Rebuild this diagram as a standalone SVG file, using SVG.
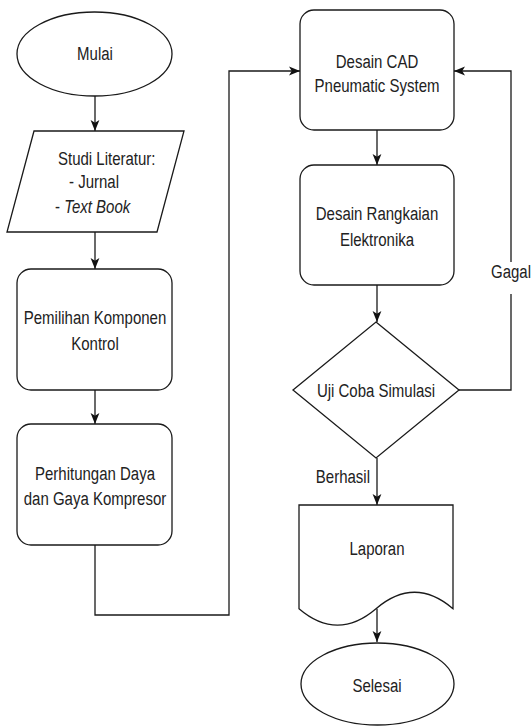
<svg xmlns="http://www.w3.org/2000/svg" width="531" height="727" viewBox="0 0 531 727">
<defs>
<marker id="arr" viewBox="0 0 10 10" refX="10" refY="5" markerUnits="userSpaceOnUse" markerWidth="11" markerHeight="11" orient="auto">
<path d="M0,1 L10,5 L0,9 L2.5,5 Z" fill="#111"/>
</marker>
<style>
.n{fill:#fff;stroke:#1a1a1a;stroke-width:1.3}
.c{fill:none;stroke:#1a1a1a;stroke-width:1.3;marker-end:url(#arr)}
text{font-family:"Liberation Sans",Arial,sans-serif;font-size:15px;fill:#222}
.m{text-anchor:middle}
</style>
</defs>
<rect width="531" height="727" fill="#fff"/>
<g id="connectors">
<path class="c" d="M95,96 V131"/>
<path class="c" d="M95,232 V269"/>
<path class="c" d="M95,390 V424"/>
<path class="c" d="M95,545 V615 H229 V71 H300"/>
<path class="c" d="M377,130 V165"/>
<path class="c" d="M377,285 V322"/>
<path class="c" d="M459,390 H511 V71 H454"/>
<path class="c" d="M377,458 V505"/>
<path class="c" d="M377,608.7 V642"/>
</g>
<g id="label-gagal">
<rect x="492" y="262" width="39" height="32" fill="#fff"/>
<text class="m" transform="translate(511,278) scale(1,1.27)">Gagal</text>
</g>
<g id="label-berhasil">
<text text-anchor="end" transform="translate(370,483) scale(1,1.27)">Berhasil</text>
</g>
<g id="mulai">
<ellipse class="n" cx="94.5" cy="54" rx="77.5" ry="42"/>
<text class="m" transform="translate(95,60) scale(1,1.27)">Mulai</text>
</g>
<g id="studi">
<path class="n" d="M34,131 H184 L157,232 H7 Z"/>
<text transform="translate(58,165) scale(1,1.27)">Studi Literatur:</text>
<text transform="translate(69,188) scale(1,1.27)">- Jurnal</text>
<text transform="translate(55,213) scale(1,1.27)">- <tspan font-style="italic">Text Book</tspan></text>
</g>
<g id="pemilihan">
<rect class="n" x="17" y="269" width="155" height="121" rx="14"/>
<text class="m" transform="translate(95,324) scale(1,1.27)">Pemilihan Komponen</text>
<text class="m" transform="translate(95,350) scale(1,1.27)">Kontrol</text>
</g>
<g id="perhitungan">
<rect class="n" x="17" y="424" width="155" height="121" rx="14"/>
<text class="m" transform="translate(95,480) scale(1,1.27)">Perhitungan Daya</text>
<text class="m" transform="translate(95,505) scale(1,1.27)">dan Gaya Kompresor</text>
</g>
<g id="cad">
<rect class="n" x="300" y="10" width="154" height="120" rx="14"/>
<text class="m" transform="translate(377,68) scale(1,1.27)">Desain CAD</text>
<text class="m" transform="translate(377,92) scale(1,1.27)">Pneumatic System</text>
</g>
<g id="rangkaian">
<rect class="n" x="300" y="165" width="154" height="120" rx="14"/>
<text class="m" transform="translate(377,220) scale(1,1.27)">Desain Rangkaian</text>
<text class="m" transform="translate(377,246) scale(1,1.27)">Elektronika</text>
</g>
<g id="uji">
<path class="n" d="M376,322 L459,390 L376,458 L293,390 Z"/>
<text class="m" transform="translate(376,397) scale(1,1.27)">Uji Coba Simulasi</text>
</g>
<g id="laporan">
<path class="n" d="M299,505 H453 V608.7 Q414.5,575.8 376,608.7 Q337.5,641.6 299,608.7 Z"/>
<text class="m" transform="translate(377,555) scale(1,1.27)">Laporan</text>
</g>
<g id="selesai">
<ellipse class="n" cx="377.5" cy="684" rx="76.5" ry="41"/>
<text class="m" transform="translate(377,692) scale(1,1.27)">Selesai</text>
</g>
</svg>
